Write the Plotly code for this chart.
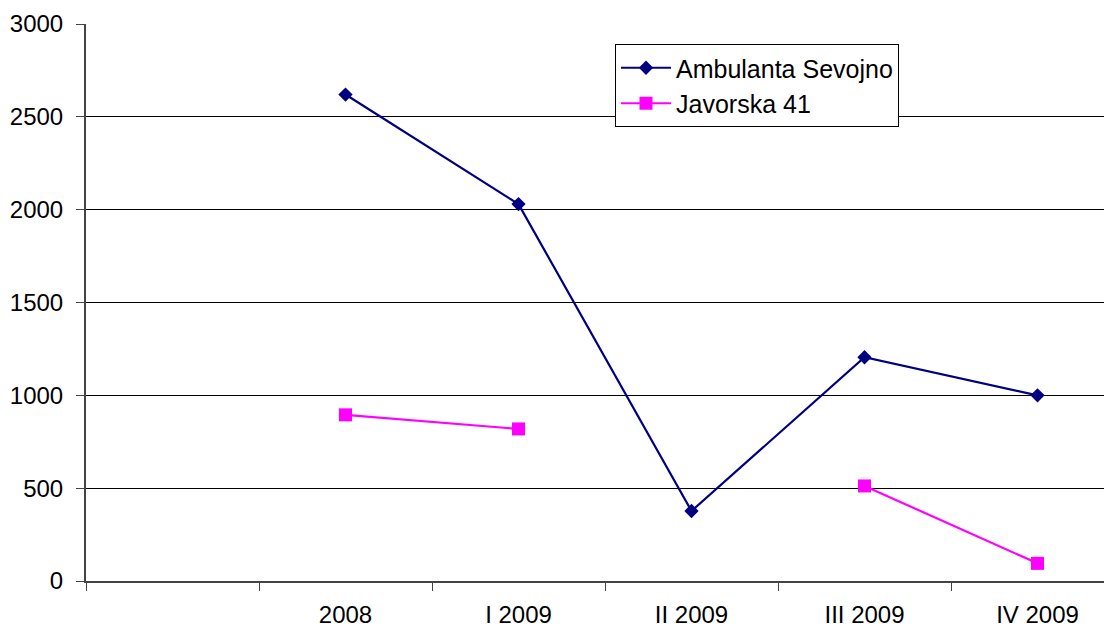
import plotly.graph_objects as go

categories = ["2008", "I 2009", "II 2009", "III 2009", "IV 2009"]
ambulanta_sevojno = [2620, 2030, 377, 1205, 1000]
javorska_41 = [895, 819, None, 512, 95]
y_ticks = [0, 500, 1000, 1500, 2000, 2500, 3000]

# category slot 0 is left empty, data categories occupy slots 1..5
xpos = [i + 1 for i in range(len(categories))]

FONT = "Liberation Sans, Arial, sans-serif"

fig = go.Figure()
fig.add_trace(go.Scatter(
    x=xpos, y=ambulanta_sevojno, name="Ambulanta Sevojno",
    mode="lines+markers",
    line=dict(color="#000080", width=2.2),
    marker=dict(symbol="diamond", size=11, color="#000080"),
))
fig.add_trace(go.Scatter(
    x=xpos, y=javorska_41, name="Javorska 41",
    mode="lines+markers", connectgaps=False,
    line=dict(color="#FF00FF", width=2.2),
    marker=dict(symbol="square", size=13, color="#FF00FF"),
))

# page body has an 8px margin, so the figure is offset by 8px
fig.update_layout(
    width=1104, height=620,
    margin=dict(l=78, r=0, t=16, b=47, autoexpand=False),
    paper_bgcolor="white", plot_bgcolor="white",
    font=dict(family=FONT, size=24, color="black"),
    showlegend=True,
    legend=dict(
        x=(615 - 86) / 1026, y=(581 - 44) / 557,
        xanchor="left", yanchor="top",
        bgcolor="white", bordercolor="black", borderwidth=1,
        font=dict(family=FONT, size=25, color="black"),
        tracegroupgap=0, itemwidth=50,
    ),
    xaxis=dict(
        range=[-0.5, -0.5 + 1026 / 173],
        tickvals=xpos, ticktext=categories,
        ticks="", showgrid=False, zeroline=False,
        showline=True, linecolor="#444444", linewidth=2,
        ticklabelstandoff=11, automargin=False,
        minor=dict(tick0=-0.5, dtick=1, ticks="outside", ticklen=8,
                   tickcolor="#444444", tickwidth=1, showgrid=False),
        fixedrange=True,
    ),
    yaxis=dict(
        range=[0, 3000], tickvals=y_ticks,
        ticks="outside", ticklen=8, tickcolor="#444444", tickwidth=1,
        showgrid=True, gridcolor="black", gridwidth=1,
        zeroline=False,
        showline=True, linecolor="#444444", linewidth=2,
        ticklabelstandoff=8, automargin=False,
        fixedrange=True,
    ),
)

fig.write_html("out.html")
